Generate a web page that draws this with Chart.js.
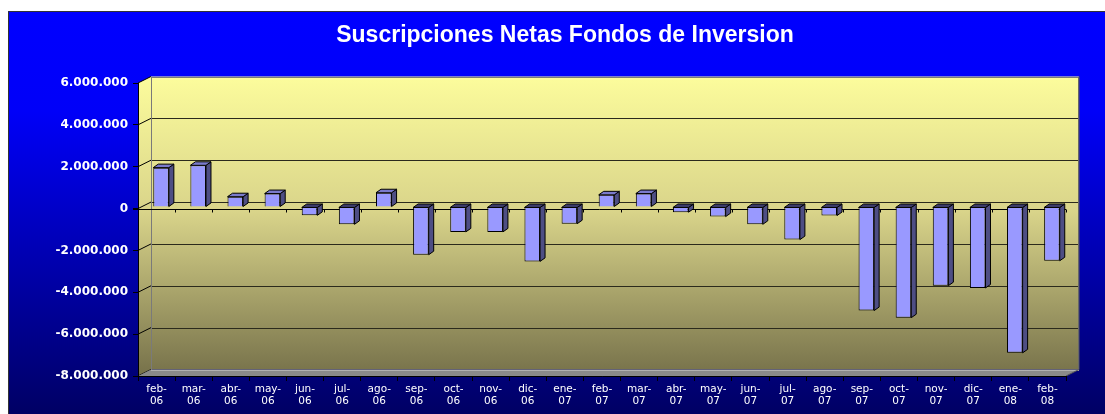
<!DOCTYPE html>
<html>
<head>
<meta charset="utf-8">
<script src="https://cdn.jsdelivr.net/npm/chart.js@4/dist/chart.umd.min.js"></script>
<style>
  html, body { margin: 0; padding: 0; background: #fff; }
  #wrap { width: 1105px; height: 414px; }
</style>
</head>
<body>
<div id="wrap"><canvas id="fondos-chart" width="1105" height="414"></canvas></div>
<script>
// datos
var meses = [
  ["feb-", "06"], ["mar-", "06"], ["abr-", "06"], ["may-", "06"], ["jun-", "06"],
  ["jul-", "06"], ["ago-", "06"], ["sep-", "06"], ["oct-", "06"], ["nov-", "06"],
  ["dic-", "06"], ["ene-", "07"], ["feb-", "07"], ["mar-", "07"], ["abr-", "07"],
  ["may-", "07"], ["jun-", "07"], ["jul-", "07"], ["ago-", "07"], ["sep-", "07"],
  ["oct-", "07"], ["nov-", "07"], ["dic-", "07"], ["ene-", "08"], ["feb-", "08"]
];
var suscripciones = [
  1880000, 1990000, 490000, 640000, -400000,
  -830000, 680000, -2280000, -1190000, -1190000,
  -2600000, -800000, 580000, 640000, -250000,
  -460000, -830000, -1560000, -410000, -4950000,
  -5290000, -3760000, -3870000, -6970000, -2570000
];
var ejeMin = -8000000;
var ejeMax = 6000000;
var ejePaso = 2000000;

// profundidad 3D
var PARED_DX = 13, PARED_DY = -6.5;
var BARRA_DX = 4.5, BARRA_DY = -1.6;
var LADO_DX = 5, LADO_DY = -3.5;

function formatoMiles(v) {
  var s = Math.abs(v).toString().replace(/\B(?=(\d{3})+(?!\d))/g, ".");
  return (v < 0 ? "-" : "") + s;
}

// fondo azul + paredes 3D
var fondo3d = {
  id: "fondo3d",
  beforeDraw: function (chart) {
    var ctx = chart.ctx;
    var a = chart.chartArea;
    var y = chart.scales.y;
    ctx.save();
    // panel azul
    var g = ctx.createLinearGradient(0, 11, 0, 414);
    g.addColorStop(0, "#0000ff");
    g.addColorStop(0.25, "#0000f8");
    g.addColorStop(1, "#000064");
    ctx.fillStyle = g;
    ctx.fillRect(8, 11, 1105 - 8, 414 - 11);
    ctx.strokeStyle = "#333";
    ctx.lineWidth = 1;
    ctx.beginPath();
    ctx.moveTo(8.5, 414); ctx.lineTo(8.5, 11.5); ctx.lineTo(1105, 11.5);
    ctx.stroke();

    var wallTop = a.top + PARED_DY, wallBot = a.bottom + PARED_DY;
    var wg = ctx.createLinearGradient(0, wallTop, 0, a.bottom);
    wg.addColorStop(0, "#fcfc9c");
    wg.addColorStop(0.45, "#d9d48a");
    wg.addColorStop(1, "#76714a");
    // pared lateral
    ctx.fillStyle = wg;
    ctx.beginPath();
    ctx.moveTo(a.left, a.top); ctx.lineTo(a.left + PARED_DX, wallTop);
    ctx.lineTo(a.left + PARED_DX, wallBot); ctx.lineTo(a.left, a.bottom);
    ctx.closePath(); ctx.fill();
    // pared del fondo
    ctx.fillRect(a.left + PARED_DX, wallTop, a.right - a.left, a.bottom - a.top);
    // lineas de division
    ctx.strokeStyle = "#2b2a1c";
    ctx.lineWidth = 1;
    for (var v = ejeMin + ejePaso; v < ejeMax; v += ejePaso) {
      var py = Math.round(y.getPixelForValue(v) + PARED_DY) + 0.5;
      ctx.beginPath();
      ctx.moveTo(a.left + PARED_DX, py); ctx.lineTo(a.right + PARED_DX, py);
      ctx.stroke();
    }
    // diagonales en la pared lateral
    ctx.strokeStyle = "#000";
    for (var v2 = ejeMin; v2 <= ejeMax; v2 += ejePaso) {
      var fy = y.getPixelForValue(v2);
      ctx.beginPath();
      ctx.moveTo(a.left, fy); ctx.lineTo(a.left + PARED_DX, fy + PARED_DY);
      ctx.stroke();
    }
    // borde gris de la pared
    ctx.strokeStyle = "#7a7a7a";
    ctx.strokeRect(a.left + PARED_DX + 0.5, Math.round(wallTop) + 0.5, a.right - a.left - 1, a.bottom - a.top);
    // suelo
    ctx.fillStyle = "#8a8a8a";
    ctx.beginPath();
    ctx.moveTo(a.left, a.bottom); ctx.lineTo(a.left + PARED_DX, wallBot);
    ctx.lineTo(a.right + PARED_DX, wallBot); ctx.lineTo(a.right, a.bottom);
    ctx.closePath(); ctx.fill();
    ctx.strokeStyle = "#b0b0b0";
    ctx.beginPath();
    ctx.moveTo(a.left + PARED_DX, Math.round(wallBot) + 0.5);
    ctx.lineTo(a.right + PARED_DX, Math.round(wallBot) + 0.5);
    ctx.stroke();
    ctx.strokeStyle = "#555";
    ctx.beginPath();
    ctx.moveTo(a.right, a.bottom); ctx.lineTo(a.right + PARED_DX, wallBot);
    ctx.lineTo(a.right + PARED_DX, wallTop);
    ctx.stroke();
    // eje en cero
    var zy = Math.round(y.getPixelForValue(0)) + 0.5;
    ctx.strokeStyle = "#000";
    ctx.beginPath();
    ctx.moveTo(a.left - 5, zy); ctx.lineTo(a.right, zy);
    ctx.stroke();
    var paso = (a.right - a.left) / meses.length;
    for (var i = 1; i <= meses.length; i++) {
      var tx = Math.round(a.left + paso * i) + 0.5;
      ctx.beginPath();
      ctx.moveTo(tx, zy); ctx.lineTo(tx, zy + 3);
      ctx.stroke();
    }
    ctx.restore();
  },
  beforeDatasetsDraw: function (chart) {
    chart.ctx.save();
    chart.ctx.translate(BARRA_DX, BARRA_DY);
  },
  afterDatasetsDraw: function (chart) {
    var ctx = chart.ctx;
    ctx.restore();
    var meta = chart.getDatasetMeta(0);
    ctx.save();
    ctx.lineWidth = 1;
    ctx.strokeStyle = "#000";
    meta.data.forEach(function (bar) {
      var p = bar.getProps(["x", "y", "base", "width"], true);
      var l = p.x - p.width / 2 + BARRA_DX;
      var r = p.x + p.width / 2 + BARRA_DX;
      var t = Math.min(p.y, p.base) + BARRA_DY;
      var b = Math.max(p.y, p.base) + BARRA_DY;
      // lado
      ctx.fillStyle = "#4e4e84";
      ctx.beginPath();
      ctx.moveTo(r, t); ctx.lineTo(r + LADO_DX, t + LADO_DY);
      ctx.lineTo(r + LADO_DX, b + LADO_DY); ctx.lineTo(r, b);
      ctx.closePath(); ctx.fill(); ctx.stroke();
      // tapa
      ctx.fillStyle = p.y < p.base ? "#7a7acc" : "#3c3c6a";
      ctx.beginPath();
      ctx.moveTo(l, t); ctx.lineTo(l + LADO_DX, t + LADO_DY);
      ctx.lineTo(r + LADO_DX, t + LADO_DY); ctx.lineTo(r, t);
      ctx.closePath(); ctx.fill(); ctx.stroke();
    });
    ctx.restore();
  }
};

var chart = new Chart(document.getElementById("fondos-chart"), {
  type: "bar",
  data: {
    labels: meses,
    datasets: [{
      data: suscripciones,
      backgroundColor: "#9999ff",
      borderColor: "#000",
      borderWidth: 1,
      categoryPercentage: 1,
      barPercentage: 0.42
    }]
  },
  options: {
    responsive: false,
    animation: false,
    devicePixelRatio: 1,
    // padding derecho negativo + eje vacio a la derecha: centra el titulo en el panel
    layout: { padding: { left: 8, top: 11, right: -17, bottom: 0 } },
    plugins: {
      legend: { display: false },
      tooltip: { enabled: false },
      title: {
        display: true,
        text: "Suscripciones Netas Fondos de Inversion",
        color: "#fff",
        font: { family: "'Liberation Sans', Arial, sans-serif", size: 23, weight: "bold" },
        padding: { top: 11.2, bottom: 33.2 }
      }
    },
    scales: {
      x: {
        offset: true,
        grid: { display: true, drawOnChartArea: false, offset: true, tickLength: 5, color: "#000" },
        border: { display: true, color: "#000", width: 1 },
        ticks: {
          color: "#fff",
          font: { family: "'DejaVu Sans', sans-serif", size: 10.5, lineHeight: 1.15 },
          padding: 2,
          maxRotation: 0,
          autoSkip: false
        },
        afterFit: function (s) { s.height = 38; }
      },
      y: {
        min: ejeMin,
        max: ejeMax,
        grid: { display: true, drawOnChartArea: false, tickLength: 5, color: "#000" },
        border: { display: true, color: "#000", width: 1 },
        ticks: {
          stepSize: ejePaso,
          color: "#fff",
          padding: 5,
          font: { family: "'DejaVu Sans', sans-serif", size: 12, weight: "bold" },
          callback: function (v) { return formatoMiles(v); }
        },
        afterFit: function (s) { s.width = 130; }
      },
      margen: {
        type: "linear",
        position: "right",
        display: true,
        grid: { display: false },
        border: { display: false },
        ticks: { display: false },
        afterFit: function (s) { s.width = 56; }
      }
    }
  },
  plugins: [fondo3d]
});
</script>
</body>
</html>
